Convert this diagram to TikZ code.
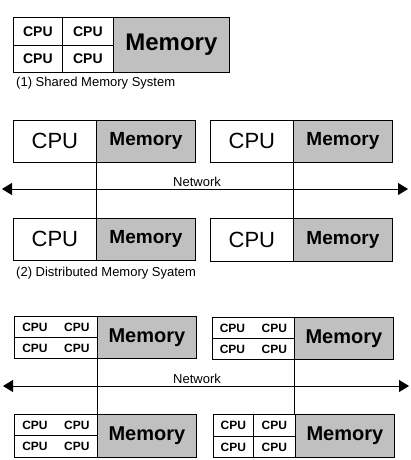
\documentclass[tikz,border=0pt]{standalone}
\usepackage{fontspec}
\setmainfont{Liberation Sans}
\usetikzlibrary{arrows.meta}
\definecolor{memgray}{RGB}{192,192,192}
\newcommand{\fs}[1]{\fontsize{#1}{#1}\selectfont}
\tikzset{
	box/.style={draw, line width=0.8pt, inner sep=0pt, anchor=north west},
	membox/.style={box, fill=memgray, font=\bfseries\fs{#1}},
	caption/.style={inner sep=0pt, anchor=west, font=\fs{13}},
	netlbl/.style={inner sep=0pt, font=\fs{13}},
	link/.style={line width=0.8pt},
	net/.style={line width=0.8pt, {Triangle[length=10pt,width=12pt]}-{Triangle[length=10pt,width=12pt]}}
}
\begin{document}
\begin{tikzpicture}[x=1pt, y=-1pt]
	\useasboundingbox (0,0) rectangle (410,460);
	% (1) shared memory
	\node[box, minimum width=49pt, minimum height=28pt, font=\bfseries\fs{14}] (s11) at (13,17) {CPU};
	\node[box, minimum width=51pt, minimum height=28pt, font=\bfseries\fs{14}] (s12) at (62,17) {CPU};
	\node[box, minimum width=49pt, minimum height=27pt, font=\bfseries\fs{14}] (s21) at (13,45) {CPU};
	\node[box, minimum width=51pt, minimum height=27pt, font=\bfseries\fs{14}] (s22) at (62,45) {CPU};
	\node[membox=24, minimum width=116pt, minimum height=55pt] (smem) at (113,17) {Memory};
	\node[caption] (cap1) at (16,83) {(1) Shared Memory System};
	% (2) distributed memory
	\node[box, minimum width=83pt, minimum height=42pt, font=\fs{22}] (d1cpu) at (13,120) {CPU};
	\node[membox=19, minimum width=99pt, minimum height=42pt] (d1mem) at (96,120) {Memory};
	\node[box, minimum width=83pt, minimum height=42pt, font=\fs{22}] (d2cpu) at (210,120) {CPU};
	\node[membox=19, minimum width=99pt, minimum height=42pt] (d2mem) at (293,120) {Memory};
	\node[box, minimum width=83pt, minimum height=42pt, font=\fs{22}] (d3cpu) at (13,218) {CPU};
	\node[membox=19, minimum width=99pt, minimum height=42pt] (d3mem) at (96,218) {Memory};
	\node[box, minimum width=83pt, minimum height=43pt, font=\fs{22}] (d4cpu) at (210,218) {CPU};
	\node[membox=19, minimum width=99pt, minimum height=43pt] (d4mem) at (293,218) {Memory};
	\coordinate (dnetl) at (2,189);
	\coordinate (dnetr) at (408,189);
	\draw[net] (dnetl) -- (dnetr);
	\node[netlbl] (dnet) at (197,182) {Network};
	\draw[link] (d1mem.south west) -- (d3mem.north west);
	\draw[link] (d2mem.south west) -- (d4mem.north west);
	\node[caption] (cap2) at (16,273) {(2) Distributed Memory Syatem};
	% (3) hybrid
	\node[box, minimum width=83pt, minimum height=21pt, font=\bfseries\fs{12}] (h1r1) at (14,316) {CPU\hspace{16.5pt}CPU};
	\node[box, minimum width=83pt, minimum height=21pt, font=\bfseries\fs{12}] (h1r2) at (14,337) {CPU\hspace{16.5pt}CPU};
	\node[membox=20, minimum width=99pt, minimum height=42pt] (h1mem) at (97,316) {Memory};
	\node[box, minimum width=82pt, minimum height=21pt, font=\bfseries\fs{12}] (h2r1) at (212,317) {CPU\hspace{16.5pt}CPU};
	\node[box, minimum width=82pt, minimum height=21pt, font=\bfseries\fs{12}] (h2r2) at (212,338) {CPU\hspace{16.5pt}CPU};
	\node[membox=20, minimum width=99pt, minimum height=42pt] (h2mem) at (294,317) {Memory};
	\node[box, minimum width=83pt, minimum height=21pt, font=\bfseries\fs{12}] (h3r1) at (14,414) {CPU\hspace{16.5pt}CPU};
	\node[box, minimum width=83pt, minimum height=22pt, font=\bfseries\fs{12}] (h3r2) at (14,435) {CPU\hspace{16.5pt}CPU};
	\node[membox=20, minimum width=99pt, minimum height=43pt] (h3mem) at (97,414) {Memory};
	\node[box, minimum width=40pt, minimum height=22pt, font=\bfseries\fs{12}] (h411) at (213,414) {CPU};
	\node[box, minimum width=42pt, minimum height=22pt, font=\bfseries\fs{12}] (h412) at (253,414) {CPU};
	\node[box, minimum width=40pt, minimum height=21pt, font=\bfseries\fs{12}] (h421) at (213,436) {CPU};
	\node[box, minimum width=42pt, minimum height=21pt, font=\bfseries\fs{12}] (h422) at (253,436) {CPU};
	\node[membox=20, minimum width=99pt, minimum height=43pt] (h4mem) at (295,414) {Memory};
	\coordinate (hnetl) at (3,386);
	\coordinate (hnetr) at (409,386);
	\draw[net] (hnetl) -- (hnetr);
	\node[netlbl] (hnet) at (197,379) {Network};
	\draw[link] (h1mem.south west) -- (h3mem.north west);
	\draw[link] (h2mem.south west) -- (h2mem.south west |- h4mem.north);
\end{tikzpicture}
\end{document}
